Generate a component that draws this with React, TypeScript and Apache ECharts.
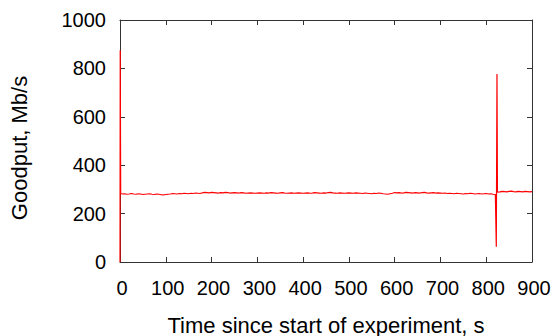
import React, { useEffect, useRef } from "react";
import * as echarts from "echarts";

// Goodput samples, Mb/s, every 5 s from t=5 to t=820
const baseGoodput = [
  281, 282, 280, 281, 283, 281, 280, 282, 281, 279, 280, 281, 282, 280, 279, 281, 280, 278, 277, 279,
  280, 281, 283, 282, 281, 283, 282, 284, 283, 282, 284, 283, 285, 284, 283, 286,
  288, 287, 286, 288, 287, 286, 285, 287, 286, 288, 287, 285, 286, 287, 286, 285, 287, 286, 284, 285, 286, 285, 284, 285,
  286, 285, 284, 286, 285, 287, 286, 285, 284, 286, 287, 285, 284, 285, 286, 284, 285, 286, 285, 284,
  285, 286, 284, 285, 287, 286, 285, 284, 286, 285, 287, 288, 286, 285, 284, 286, 285, 284, 285, 286,
  285, 284, 286, 285, 284, 283, 285, 284, 283, 282, 284, 283, 285, 284, 282, 281, 280, 282, 284, 287,
  286, 287, 285, 286, 288, 287, 286, 285, 287, 286, 285, 287, 288, 286, 285, 286, 287, 285, 286, 285,
  284, 285, 283, 284, 283, 282, 284, 283, 282, 281, 283, 282, 284, 283, 281, 282, 283, 281, 282, 283, 281, 282, 280, 279,
];
// Goodput samples, Mb/s, every 5 s from t=825 to t=900
const lateGoodput = [291, 290, 292, 291, 290, 292, 293, 291, 290, 292, 291, 290, 292, 291, 290, 291];
// Start-up burst [time, goodput]
const startBurst: [number, number][] = [
  [0, 0],
  [0.5, 875],
  [1.5, 283],
];
// Disturbance near t=822 [time, goodput]
const midBurst: [number, number][] = [
  [821, 278],
  [822, 63],
  [823.5, 777],
  [824.5, 289],
];
const sampleStep = 5;
const xTicks = { min: 0, max: 900, interval: 100 };
const yTicks = { min: 0, max: 1000, interval: 200 };

function buildData(): [number, number][] {
  const out: [number, number][] = [...startBurst];
  baseGoodput.forEach((v, i) => out.push([(i + 1) * sampleStep, v]));
  out.push(...midBurst);
  lateGoodput.forEach((v, i) => out.push([825 + i * sampleStep, v]));
  return out;
}

export default function App() {
  const ref = useRef<HTMLDivElement>(null);
  useEffect(() => {
    if (!ref.current) return;
    const chart = echarts.init(ref.current, undefined, { renderer: "svg" });
    const font = "'Liberation Sans', Arial, sans-serif";
    const axisColor = "#333";
    const common = {
      type: "value" as const,
      axisLine: { show: true, onZero: false, lineStyle: { color: axisColor, width: 1 } },
      axisTick: { show: true, inside: true, length: 5, lineStyle: { color: axisColor } },
      splitLine: { show: false },
    };
    const fmt = (v: number) => String(v);
    chart.setOption({
      animation: false,
      backgroundColor: "#ffffff",
      grid: { left: 120, right: 25, top: 20, bottom: 74, containLabel: false, outerBoundsMode: "none" },
      xAxis: [
        {
          ...common,
          ...xTicks,
          position: "bottom",
          name: "Time since start of experiment, s",
          nameLocation: "middle",
          nameGap: 52,
          nameTextStyle: { fontFamily: font, fontSize: 22, color: "#000" },
          axisLabel: {
            fontFamily: font,
            fontSize: 20,
            color: "#000",
            margin: 16,
            formatter: fmt,
            padding: [0, 0, 0, 4],
          },
        },
        { ...common, ...xTicks, position: "top", axisLabel: { show: false } },
      ],
      yAxis: [
        {
          ...common,
          ...yTicks,
          position: "left",
          name: "Goodput, Mb/s",
          nameLocation: "middle",
          nameGap: 90,
          nameTextStyle: { fontFamily: font, fontSize: 22, color: "#000", padding: [0, 14, 0, 0] },
          axisLabel: { fontFamily: font, fontSize: 20, color: "#000", margin: 14, formatter: fmt },
        },
        { ...common, ...yTicks, position: "right", axisLabel: { show: false } },
      ],
      series: [
        {
          type: "line",
          data: buildData(),
          showSymbol: false,
          symbol: "none",
          lineStyle: { color: "#ff0000", width: 1.2 },
          xAxisIndex: 0,
          yAxisIndex: 0,
        },
      ],
    });
    return () => chart.dispose();
  }, []);
  return (
    <div
      ref={ref}
      style={{ position: "absolute", left: 0, top: 0, width: 557, height: 336 }}
    />
  );
}
